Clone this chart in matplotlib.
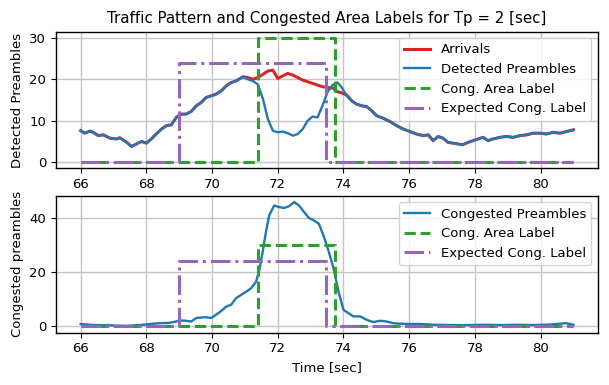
import matplotlib
matplotlib.use("Agg")
import matplotlib.pyplot as plt

# time axis [sec] and traffic curves
time_top = [66.00, 66.13, 66.28, 66.38, 66.54, 66.69, 66.89, 67.09, 67.19, 67.40,
            67.55, 67.70, 67.85, 68.00, 68.15, 68.30, 68.46, 68.61, 68.76, 68.91,
            69.06, 69.21, 69.36, 69.52, 69.67, 69.82, 69.97, 70.12, 70.28, 70.43,
            70.58, 70.73, 70.94, 71.09, 71.24, 71.39, 71.55, 71.70, 71.85, 72.00,
            72.15, 72.30, 72.46, 72.61, 72.76, 72.91, 73.06, 73.21, 73.36, 73.52,
            73.67, 73.82, 73.95, 74.10, 74.25, 74.40, 74.56, 74.71, 74.86, 75.01,
            75.21, 75.42, 75.62, 75.82, 76.02, 76.22, 76.43, 76.58, 76.73, 76.88,
            77.03, 77.18, 77.33, 77.48, 77.63, 77.80, 77.95, 78.10, 78.25, 78.40,
            78.55, 78.76, 78.96, 79.17, 79.37, 79.58, 79.78, 79.98, 80.18, 80.38,
            80.59, 80.79, 81.00]
detected = [7.6, 7.0, 7.5, 7.2, 6.4, 6.6, 5.8, 5.6, 5.9, 4.8,
            3.8, 4.4, 5.0, 4.6, 5.6, 6.8, 8.0, 8.8, 9.0, 10.8,
            11.6, 11.6, 12.2, 13.6, 14.4, 15.6, 16.0, 16.4, 17.2, 18.4,
            19.2, 19.6, 20.6, 20.0, 19.6, 18.8, 15.2, 10.4, 7.6, 7.2,
            7.4, 7.0, 6.4, 6.8, 8.0, 10.0, 11.0, 10.8, 13.6, 17.0,
            18.6, 19.2, 18.0, 16.0, 14.8, 14.0, 13.6, 13.4, 12.4, 11.2,
            10.6, 9.8, 8.8, 8.0, 7.4, 6.8, 6.4, 6.6, 5.2, 6.2,
            5.8, 4.8, 4.6, 4.4, 4.2, 4.8, 5.2, 5.6, 6.0, 5.2,
            5.6, 6.0, 6.2, 6.0, 6.4, 6.6, 7.0, 7.0, 6.8, 7.2,
            7.0, 7.4, 7.8]
arrivals = [7.6, 7.0, 7.5, 7.2, 6.4, 6.6, 5.8, 5.6, 5.9, 4.8,
            3.8, 4.4, 5.0, 4.6, 5.6, 6.8, 8.0, 8.8, 9.0, 10.8,
            11.6, 11.6, 12.2, 13.6, 14.4, 15.6, 16.0, 16.4, 17.2, 18.4,
            19.2, 19.6, 20.6, 20.4, 20.0, 20.4, 21.2, 22.0, 22.2, 20.2,
            20.8, 21.4, 21.0, 20.4, 19.8, 19.4, 19.0, 18.6, 18.2, 18.0,
            17.9, 17.0, 16.7, 16.2, 14.8, 14.0, 13.6, 13.4, 12.4, 11.2,
            10.6, 9.8, 8.8, 8.0, 7.4, 6.8, 6.4, 6.6, 5.2, 6.2,
            5.8, 4.8, 4.6, 4.4, 4.2, 4.8, 5.2, 5.6, 6.0, 5.2,
            5.6, 6.0, 6.2, 6.0, 6.4, 6.6, 7.0, 7.0, 6.8, 7.2,
            7.0, 7.4, 7.8]

time_bot = [66.00, 66.38, 66.89, 67.40, 67.90, 68.20, 68.40, 68.70, 68.90, 69.00,
            69.20, 69.36, 69.52, 69.67, 69.82, 69.97, 70.12, 70.28, 70.43, 70.58,
            70.73, 70.88, 71.04, 71.19, 71.34, 71.44, 71.54, 71.64, 71.74, 71.89,
            72.05, 72.20, 72.35, 72.50, 72.65, 72.80, 72.95, 73.10, 73.25, 73.39,
            73.54, 73.70, 73.85, 74.00, 74.15, 74.30, 74.51, 74.71, 74.91, 75.12,
            75.32, 75.52, 75.72, 76.02, 76.33, 76.80, 77.30, 77.80, 78.30, 78.80,
            79.30, 79.80, 80.30, 80.79, 81.00]
congested = [0.9, 0.5, 0.4, 0.2, 0.6, 1.0, 1.2, 1.3, 1.8, 2.2,
             2.1, 1.8, 3.1, 3.3, 3.4, 3.1, 4.3, 5.7, 7.3, 8.0,
             10.4, 11.6, 12.8, 14.1, 16.5, 20.8, 27.5, 34.9, 41.0, 44.6,
             44.0, 43.7, 44.4, 45.9, 44.6, 42.2, 40.0, 39.1, 37.9, 33.6,
             28.1, 21.4, 12.8, 6.1, 4.9, 3.7, 3.7, 2.4, 1.6, 2.1,
             1.8, 1.2, 1.0, 0.9, 0.9, 0.6, 0.5, 0.5, 0.6, 0.5,
             0.6, 0.5, 0.7, 1.2, 0.6]

# label step functions (values hold from each time until the next one)
area_t = [66.0, 71.41, 73.73, 81.0]
area_label = [0, 30, 0, 0]
expected_t = [66.0, 69.0, 73.48, 81.0]
expected_label = [0, 24, 0, 0]

plt.rcParams['font.size'] = 9.5
plt.rcParams['axes.linewidth'] = 1.0
plt.rcParams['grid.color'] = '#c4c4c4'
plt.rcParams['grid.linewidth'] = 1.0

fig, (ax1, ax2) = plt.subplots(2, 1, figsize=(6.09, 3.85), dpi=100)
fig.subplots_adjust(left=0.092, right=0.982, top=0.918, bottom=0.136, hspace=0.2)

ax1.plot(time_top, arrivals, color="tab:red", lw=2.2, label="Arrivals")
ax1.plot(time_top, detected, color="tab:blue", lw=1.7, label="Detected Preambles")
ax1.step(area_t, area_label, where="post", color="tab:green", ls="--", lw=2.2,
         label="Cong. Area Label")
ax1.step(expected_t, expected_label, where="post", color="tab:purple", ls="-.", lw=2.2,
         label="Expected Cong. Label")
ax1.set_ylabel("Detected Preambles")
ax1.set_title("Traffic Pattern and Congested Area Labels for Tp = 2 [sec]", fontsize=10.8)
ax1.grid(True)
ax1.legend(loc="upper right")

ax2.plot(time_bot, congested, color="tab:blue", lw=1.7, label="Congested Preambles")
ax2.step(area_t, area_label, where="post", color="tab:green", ls="--", lw=2.2,
         label="Cong. Area Label")
ax2.step(expected_t, expected_label, where="post", color="tab:purple", ls="-.", lw=2.2,
         label="Expected Cong. Label")
ax2.set_ylabel("Congested preambles")
ax2.set_xlabel("Time [sec]")
ax2.grid(True)
ax2.legend(loc="upper right")

fig.savefig("out.png", dpi=100)
